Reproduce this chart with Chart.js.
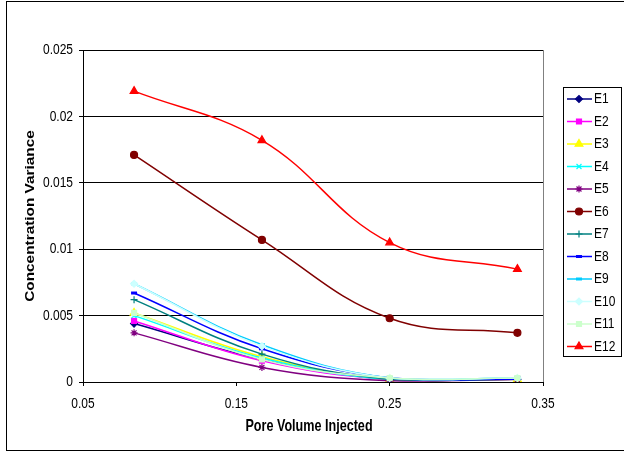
<!DOCTYPE html>
<html>
<head>
<meta charset="utf-8">
<script src="https://cdn.jsdelivr.net/npm/chart.js@4/dist/chart.umd.min.js"></script>
<style>
  html, body { margin: 0; padding: 0; background: #fff; }
  canvas { display: block; }
</style>
</head>
<body>
<canvas id="chart" width="624" height="454"></canvas>
<script>
'use strict';

// pore volume injected (x) and concentration variance per experiment
const poreVolume = [0.0833, 0.1667, 0.25, 0.3333];
const seriesNames = ['E1','E2','E3','E4','E5','E6','E7','E8','E9','E10','E11','E12'];
const E1  = [0.0044, 0.0017, 0.0002, 0.0002];
const E2  = [0.0046, 0.0016, 0.0002, 0.0002];
const E3  = [0.0052, 0.0019, 0.0002, 0.0002];
const E4  = [0.0050, 0.0018, 0.0002, 0.0003];
const E5  = [0.0037, 0.0011, 0.0001, 0.0002];
const E6  = [0.0171, 0.0107, 0.0048, 0.0037];
const E7  = [0.0062, 0.0021, 0.0002, 0.0002];
const E8  = [0.0067, 0.0025, 0.0003, 0.0002];
const E9  = [0.0074, 0.0028, 0.0003, 0.0003];
const E10 = [0.0074, 0.0027, 0.0003, 0.0003];
const E11 = [0.0052, 0.0017, 0.0003, 0.0003];
const E12 = [0.0219, 0.0182, 0.0105, 0.0085];
const xTicks = [0.05, 0.15, 0.25, 0.35];
const yTicks = [0, 0.005, 0.01, 0.015, 0.02, 0.025];

const values = [E1, E2, E3, E4, E5, E6, E7, E8, E9, E10, E11, E12];
const colors = ['#000080','#ff00ff','#ffff00','#00ffff','#800080','#800000',
                '#008080','#0000ff','#00ccff','#ccffff','#ccffcc','#ff0000'];
const styles = ['rectRot','rect','triangle','crossRot','star','circle',
                'cross','line','line','rectRot','rect','triangle'];
const radii  = [3.5, 3.5, 4.5, 3.5, 3.5, 3.5, 3.5, 3, 3, 3.5, 3.5, 4.5];

const FONT = '"Liberation Sans", Arial, sans-serif';
const STRETCH = 1.28;   // the original text is drawn taller than wide

const fmt = v => String(+Number(v).toFixed(3));

// text stretched vertically (or along its length when rotated)
function stretchedText(ctx, text, x, y, font, align, rotate) {
  ctx.save();
  ctx.translate(x, y);
  if (rotate) {
    ctx.rotate(-Math.PI / 2);
    ctx.scale(STRETCH, 1);
  } else {
    ctx.scale(1, STRETCH);
  }
  ctx.font = font;
  ctx.fillStyle = '#000';
  ctx.textAlign = align;
  ctx.textBaseline = 'middle';
  ctx.fillText(text, 0, 0);
  ctx.restore();
}

const datasets = seriesNames.map((name, i) => ({
  label: name,
  data: poreVolume.map((x, j) => ({ x, y: values[i][j] })),
  borderColor: colors[i],
  backgroundColor: colors[i],
  pointBackgroundColor: colors[i],
  pointBorderColor: colors[i],
  pointStyle: styles[i],
  pointRadius: radii[i],
  pointBorderWidth: styles[i] === 'line' ? 3 : 1.2,
  borderWidth: 1.5,
  tension: 0.4,
  showLine: true,
  order: seriesNames.length - i
}));

const frame = {
  id: 'frame',
  afterDraw(chart) {
    const { ctx, chartArea: a, scales } = chart;
    ctx.save();
    // plot area right border
    ctx.strokeStyle = '#808080';
    ctx.lineWidth = 1;
    ctx.beginPath();
    ctx.moveTo(Math.round(a.right) + 0.5, a.top);
    ctx.lineTo(Math.round(a.right) + 0.5, a.bottom);
    ctx.stroke();
    // outer border
    ctx.strokeStyle = '#000';
    ctx.strokeRect(6.5, 1.5, 630, 449);

    // tick labels
    const tickFont = '12px ' + FONT;
    yTicks.forEach(v => {
      stretchedText(ctx, fmt(v), 73, scales.y.getPixelForValue(v), tickFont, 'right');
    });
    xTicks.forEach(v => {
      stretchedText(ctx, fmt(v), scales.x.getPixelForValue(v), 404, tickFont, 'center');
    });

    // axis titles
    stretchedText(ctx, 'Pore Volume Injected', 309, 427, 'bold 12.6px ' + FONT, 'center');
    stretchedText(ctx, 'Concentration Variance', 31, (a.top + a.bottom) / 2,
      'bold 12px ' + FONT, 'center', true);

    // legend
    const lx = 563.5, ly = 87.5, lw = 58, lh = 269;
    ctx.fillStyle = '#fff';
    ctx.fillRect(lx, ly, lw, lh);
    ctx.strokeStyle = '#000';
    ctx.lineWidth = 1;
    ctx.strokeRect(lx, ly, lw, lh);
    chart.data.datasets.forEach((ds, i) => {
      const y = 99 + i * 22.5;
      ctx.strokeStyle = ds.borderColor;
      ctx.lineWidth = 1.5;
      ctx.beginPath();
      ctx.moveTo(567, y);
      ctx.lineTo(592, y);
      ctx.stroke();
      ctx.fillStyle = ds.pointBackgroundColor;
      ctx.strokeStyle = ds.pointBorderColor;
      ctx.lineWidth = ds.pointBorderWidth;
      Chart.helpers.drawPoint(ctx, {
        pointStyle: ds.pointStyle, rotation: 0,
        radius: ds.pointRadius, borderWidth: ds.pointBorderWidth
      }, 579, y);
      stretchedText(ctx, ds.label, 594, y, tickFont, 'left');
    });
    ctx.restore();
  }
};

new Chart(document.getElementById('chart'), {
  type: 'scatter',
  data: { datasets },
  options: {
    responsive: false,
    animation: false,
    layout: { padding: { left: 0, right: 81, top: 50, bottom: 0 } },
    plugins: {
      legend: { display: false },
      tooltip: { enabled: false }
    },
    scales: {
      x: {
        type: 'linear',
        min: 0.05, max: 0.35,
        afterBuildTicks: s => { s.ticks = xTicks.map(value => ({ value })); },
        afterFit: s => { s.height = 72; },
        ticks: { display: false },
        grid: { drawOnChartArea: false, drawTicks: true, tickLength: 4, color: '#000' },
        border: { color: '#000', width: 1 }
      },
      y: {
        type: 'linear',
        min: 0, max: 0.025,
        afterBuildTicks: s => { s.ticks = yTicks.map(value => ({ value })); },
        afterFit: s => { s.width = 83; },
        ticks: { display: false },
        grid: { color: '#000', lineWidth: 1, drawTicks: true, tickLength: 4 },
        border: { color: '#000', width: 1 }
      }
    }
  },
  plugins: [frame]
});
</script>
</body>
</html>
